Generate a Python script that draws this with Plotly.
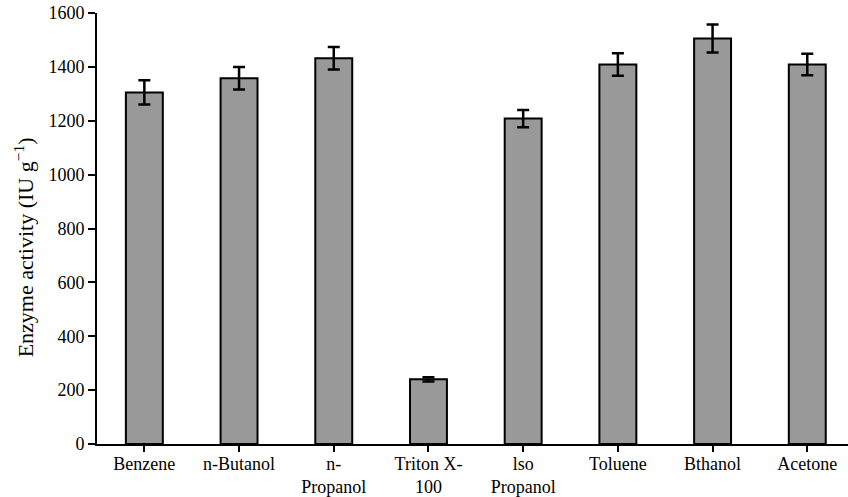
import plotly.graph_objects as go

categories = ["Benzene", "n-Butanol", "n-<br>Propanol", "Triton X-<br>100",
              "lso<br>Propanol", "Toluene", "Bthanol", "Acetone"]
activity = [1305, 1358, 1432, 240, 1208, 1409, 1505, 1409]
errors = [45, 42, 42, 8, 32, 42, 52, 40]
y_ticks = [0, 200, 400, 600, 800, 1000, 1200, 1400, 1600]

xs = list(range(len(categories)))
fig = go.Figure(go.Bar(
    x=xs, y=activity, width=0.39,
    marker=dict(color="#999999", line=dict(color="black", width=2)),
    error_y=dict(type="data", array=errors, visible=True, color="black",
                 thickness=2.5, width=6),
))

font = "Liberation Serif, Times New Roman, serif"
fig.update_layout(
    width=848, height=497,
    margin=dict(l=97, r=0, t=13, b=53),
    plot_bgcolor="white", paper_bgcolor="white",
    showlegend=False,
    font=dict(family=font, color="black", size=18),
)
fig.update_xaxes(
    range=[-0.5, 7.43], tickmode="array", tickvals=xs, ticktext=categories,
    tickson="boundaries", ticks="outside", ticklen=6, tickwidth=2, tickcolor="black",
    showline=True, linecolor="black", linewidth=2, showgrid=False, zeroline=False,
    tickfont=dict(size=18, family=font), ticklabelstandoff=-4,
)
fig.update_yaxes(
    range=[0, 1600], tickmode="array", tickvals=y_ticks,
    ticks="outside", ticklen=7, tickwidth=2, tickcolor="black",
    showline=True, linecolor="black", linewidth=2, showgrid=False, zeroline=False,
    tickfont=dict(size=18, family=font), ticklabeloverflow="allow",
)
fig.add_annotation(
    text="Enzyme activity (IU g<sup>−1</sup>)", textangle=-90,
    xref="paper", x=0, xanchor="center", xshift=-73,
    yref="y", y=730, yanchor="middle", showarrow=False,
    font=dict(size=22, family=font, color="black"),
)
fig.write_html("out.html", config={"displayModeBar": False},
               post_script="document.body.style.margin='0';")
